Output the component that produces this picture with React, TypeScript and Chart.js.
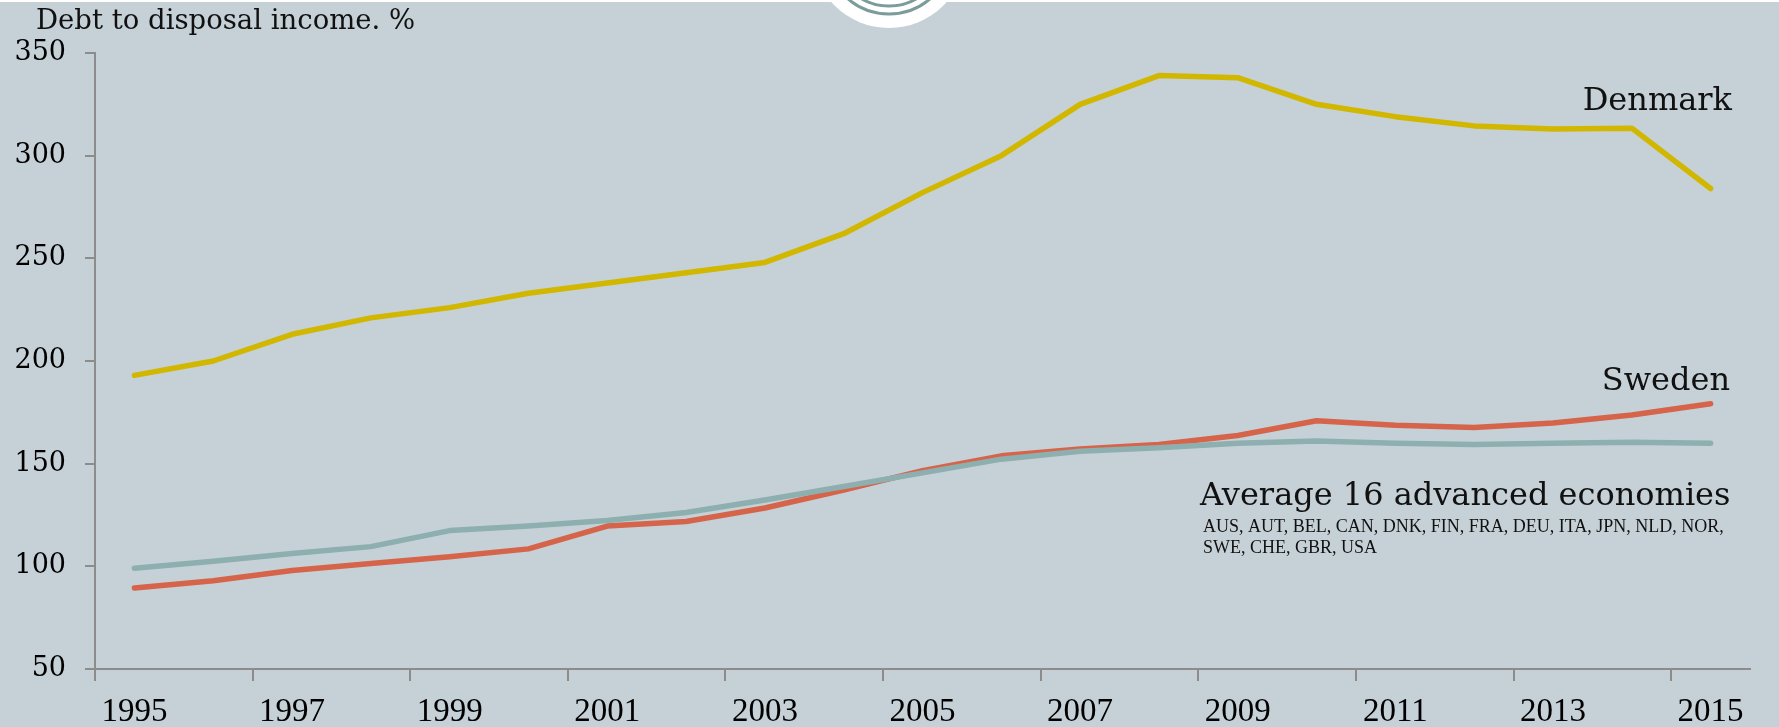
import React, { useEffect, useRef } from 'react';
import { Chart, registerables } from 'chart.js';

Chart.register(...registerables);

const years = ['1995', '1996', '1997', '1998', '1999', '2000', '2001', '2002', '2003', '2004', '2005', '2006', '2007', '2008', '2009', '2010', '2011', '2012', '2013', '2014', '2015'];
const denmark = [193, 200, 213, 221, 226, 233, 238, 243, 248, 262, 282, 300, 325, 339, 338, 325, 319, 314.5, 313, 313.4, 284];
const sweden = [89.5, 93, 98, 101.4, 104.7, 108.5, 119.6, 121.8, 128.4, 137.2, 146.6, 153.8, 157.1, 159.3, 163.7, 170.9, 168.7, 167.6, 169.8, 173.7, 179.2];
const average = [99.1, 102.5, 106.3, 109.6, 117.4, 119.6, 122.3, 126.2, 132.3, 138.9, 145.5, 152.2, 156, 157.7, 159.9, 161, 159.9, 159.3, 159.9, 160.4, 159.9];
const yMin = 50;
const yMax = 350;
const yStep = 50;
const titleText = 'Debt to disposal income. %';
const labelDenmark = 'Denmark';
const labelSweden = 'Sweden';
const labelAverage = 'Average 16 advanced economies';
const countryLines = ['AUS, AUT, BEL, CAN, DNK, FIN, FRA, DEU, ITA, JPN, NLD, NOR,', 'SWE, CHE, GBR, USA'];

const W = 1779;
const H = 727;
const BG = '#C6D1D7';
const AXIS = '#8C8C8C';
const GEORGIA = '"DejaVu Serif", Georgia, serif';
const TIMES = '"Liberation Serif", "Times New Roman", serif';

const decorPlugin = {
  id: 'decor',
  beforeDraw(chart: any) {
    const ctx = chart.ctx;
    ctx.save();
    ctx.fillStyle = '#FFFFFF';
    ctx.fillRect(0, 0, W, H);
    ctx.fillStyle = BG;
    ctx.fillRect(0, 2, W, H - 2);
    // logo at top centre
    const cx = 889;
    const cy = -49;
    ctx.beginPath();
    ctx.arc(cx, cy, 77, 0, Math.PI * 2);
    ctx.fillStyle = '#FFFFFF';
    ctx.fill();
    ctx.strokeStyle = '#7C9C9A';
    ctx.lineWidth = 3;
    ctx.beginPath();
    ctx.arc(cx, cy, 63, 0, Math.PI * 2);
    ctx.stroke();
    ctx.beginPath();
    ctx.arc(cx, cy, 55, 0, Math.PI * 2);
    ctx.stroke();
    ctx.restore();
  },
  afterDraw(chart: any) {
    const ctx = chart.ctx;
    ctx.save();
    ctx.fillStyle = '#111111';
    ctx.textBaseline = 'alphabetic';
    ctx.textAlign = 'left';
    ctx.font = `27.5px ${GEORGIA}`;
    ctx.fillText(titleText, 36, 29);
    ctx.font = `32px ${GEORGIA}`;
    ctx.textAlign = 'right';
    ctx.fillText(labelDenmark, 1732, 110);
    ctx.fillText(labelSweden, 1730, 390);
    ctx.textAlign = 'left';
    ctx.fillText(labelAverage, 1200, 505);
    ctx.font = `18px ${TIMES}`;
    ctx.fillText(countryLines[0], 1203, 532);
    ctx.fillText(countryLines[1], 1203, 553);
    ctx.restore();
  },
};

export default function App() {
  const ref = useRef<HTMLCanvasElement | null>(null);

  useEffect(() => {
    document.body.style.margin = '0';
    const canvas = ref.current;
    if (!canvas) return;
    const line = (data: number[], color: string) => ({
      data,
      borderColor: color,
      backgroundColor: color,
      borderWidth: 5.5,
      borderCapStyle: 'round' as const,
      borderJoinStyle: 'round' as const,
      pointRadius: 0,
      tension: 0,
      fill: false,
    });
    const chart = new Chart(canvas, {
      type: 'line',
      data: {
        labels: years,
        datasets: [
          line(average, '#8EAFAF'),
          line(sweden, '#D6644A'),
          line(denmark, '#D1B700'),
        ],
      },
      plugins: [decorPlugin],
      options: {
        animation: false,
        responsive: false,
        maintainAspectRatio: false,
        devicePixelRatio: 1,
        layout: { padding: { left: 0, right: 29, top: 53, bottom: 0 } },
        plugins: {
          legend: { display: false },
          tooltip: { enabled: false },
          title: { display: false },
        },
        scales: {
          x: {
            type: 'category',
            offset: true,
            afterFit(scale: any) {
              scale.height = 58;
            },
            grid: {
              display: true,
              offset: true,
              drawOnChartArea: false,
              drawTicks: true,
              tickLength: 12,
              lineWidth: 2,
              color: (c: any) => (c.type === 'tick' && c.index % 2 === 0 ? AXIS : 'rgba(0,0,0,0)'),
            },
            border: { display: true, color: AXIS, width: 2 },
            ticks: {
              autoSkip: false,
              maxRotation: 0,
              minRotation: 0,
              padding: 12,
              color: '#000000',
              font: { family: TIMES, size: 33 },
              callback: (_v: any, i: number) => (i % 2 === 0 ? years[i] : ''),
            },
          },
          y: {
            min: yMin,
            max: yMax,
            afterFit(scale: any) {
              scale.width = 95;
            },
            grid: {
              display: true,
              drawOnChartArea: false,
              drawTicks: true,
              tickLength: 10,
              lineWidth: 2,
              color: AXIS,
            },
            border: { display: true, color: AXIS, width: 2 },
            ticks: {
              stepSize: yStep,
              padding: 19,
              color: '#000000',
              font: { family: GEORGIA, size: 27 },
            },
          },
        },
      },
    });
    return () => chart.destroy();
  }, []);

  return (
    <div style={{ width: W, height: H }}>
      <canvas ref={ref} width={W} height={H} style={{ display: 'block', width: W, height: H }} />
    </div>
  );
}
